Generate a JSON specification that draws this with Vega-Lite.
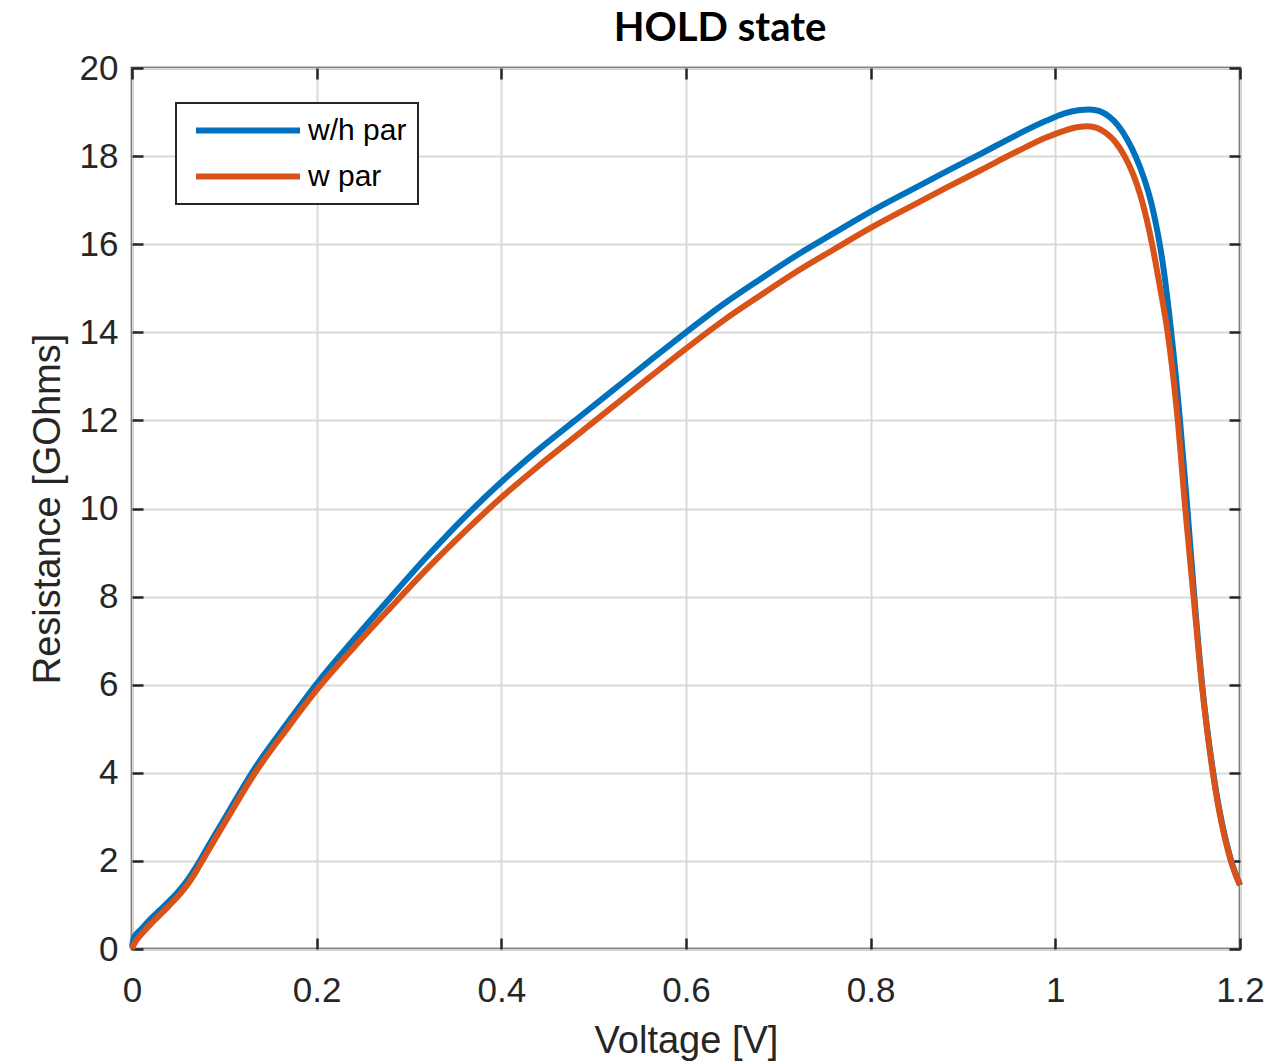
{
  "$schema": "https://vega.github.io/schema/vega-lite/v6.json",
  "width": 1108,
  "height": 881,
  "autosize": {"type": "none"},
  "padding": {"left": 132, "top": 68, "right": 48, "bottom": 112},
  "background": "white",
  "title": {"text": "HOLD state", "font": "Lato", "fontSize": 40, "fontWeight": "bold", "color": "#000000", "anchor": "middle", "frame": "group", "dx": 34, "offset": 2},
  "config": {
    "view": {"stroke": "#262626", "strokeWidth": 2.5},
    "axis": {
      "labelFont": "Liberation Sans", "labelFontSize": 35, "labelColor": "#262626", "labelFlush": false,
      "titleFont": "Liberation Sans", "titleFontSize": 38, "titleColor": "#262626", "titleFontWeight": "normal",
      "tickColor": "#262626", "tickWidth": 2.5, "tickSize": -11,
      "domain": false,
      "gridColor": "#dadada", "gridWidth": 2, "gridOpacity": 1
    }
  },
  "data": {"values": [
    {"s": "w/h par", "V": 0.0, "R": 0.05},
    {"s": "w/h par", "V": 0.002, "R": 0.25},
    {"s": "w/h par", "V": 0.01, "R": 0.45},
    {"s": "w/h par", "V": 0.02, "R": 0.68},
    {"s": "w/h par", "V": 0.03, "R": 0.88},
    {"s": "w/h par", "V": 0.04, "R": 1.08},
    {"s": "w/h par", "V": 0.05, "R": 1.3},
    {"s": "w/h par", "V": 0.06, "R": 1.56},
    {"s": "w/h par", "V": 0.07, "R": 1.88},
    {"s": "w/h par", "V": 0.08, "R": 2.24},
    {"s": "w/h par", "V": 0.09, "R": 2.6},
    {"s": "w/h par", "V": 0.1, "R": 2.95},
    {"s": "w/h par", "V": 0.133, "R": 4.1},
    {"s": "w/h par", "V": 0.169, "R": 5.15},
    {"s": "w/h par", "V": 0.2, "R": 6.02},
    {"s": "w/h par", "V": 0.24, "R": 7.02},
    {"s": "w/h par", "V": 0.28, "R": 7.98},
    {"s": "w/h par", "V": 0.32, "R": 8.92},
    {"s": "w/h par", "V": 0.36, "R": 9.8},
    {"s": "w/h par", "V": 0.4, "R": 10.6},
    {"s": "w/h par", "V": 0.44, "R": 11.33},
    {"s": "w/h par", "V": 0.48, "R": 12.0},
    {"s": "w/h par", "V": 0.52, "R": 12.67},
    {"s": "w/h par", "V": 0.56, "R": 13.34},
    {"s": "w/h par", "V": 0.6, "R": 14.0},
    {"s": "w/h par", "V": 0.64, "R": 14.63},
    {"s": "w/h par", "V": 0.68, "R": 15.2},
    {"s": "w/h par", "V": 0.72, "R": 15.75},
    {"s": "w/h par", "V": 0.76, "R": 16.25},
    {"s": "w/h par", "V": 0.8, "R": 16.74},
    {"s": "w/h par", "V": 0.84, "R": 17.19},
    {"s": "w/h par", "V": 0.88, "R": 17.63},
    {"s": "w/h par", "V": 0.92, "R": 18.06},
    {"s": "w/h par", "V": 0.96, "R": 18.5},
    {"s": "w/h par", "V": 0.99, "R": 18.8},
    {"s": "w/h par", "V": 1.01, "R": 18.97},
    {"s": "w/h par", "V": 1.025, "R": 19.04},
    {"s": "w/h par", "V": 1.037, "R": 19.06},
    {"s": "w/h par", "V": 1.048, "R": 19.02},
    {"s": "w/h par", "V": 1.058, "R": 18.9},
    {"s": "w/h par", "V": 1.068, "R": 18.69},
    {"s": "w/h par", "V": 1.078, "R": 18.37},
    {"s": "w/h par", "V": 1.087, "R": 17.99},
    {"s": "w/h par", "V": 1.096, "R": 17.5},
    {"s": "w/h par", "V": 1.104, "R": 16.93},
    {"s": "w/h par", "V": 1.11, "R": 16.35},
    {"s": "w/h par", "V": 1.116, "R": 15.62},
    {"s": "w/h par", "V": 1.125, "R": 14.1},
    {"s": "w/h par", "V": 1.135, "R": 12.0},
    {"s": "w/h par", "V": 1.143, "R": 10.0},
    {"s": "w/h par", "V": 1.1505, "R": 8.0},
    {"s": "w/h par", "V": 1.159, "R": 6.0},
    {"s": "w/h par", "V": 1.171, "R": 4.0},
    {"s": "w/h par", "V": 1.1905, "R": 2.0},
    {"s": "w/h par", "V": 1.2, "R": 1.45},
    {"s": "w par", "V": 0.0, "R": 0.0},
    {"s": "w par", "V": 0.002, "R": 0.1},
    {"s": "w par", "V": 0.01, "R": 0.33},
    {"s": "w par", "V": 0.02, "R": 0.56},
    {"s": "w par", "V": 0.03, "R": 0.77},
    {"s": "w par", "V": 0.04, "R": 0.98},
    {"s": "w par", "V": 0.05, "R": 1.2},
    {"s": "w par", "V": 0.06, "R": 1.46},
    {"s": "w par", "V": 0.07, "R": 1.78},
    {"s": "w par", "V": 0.08, "R": 2.14},
    {"s": "w par", "V": 0.09, "R": 2.5},
    {"s": "w par", "V": 0.1, "R": 2.85},
    {"s": "w par", "V": 0.133, "R": 3.99},
    {"s": "w par", "V": 0.169, "R": 5.03},
    {"s": "w par", "V": 0.2, "R": 5.88},
    {"s": "w par", "V": 0.24, "R": 6.84},
    {"s": "w par", "V": 0.28, "R": 7.75},
    {"s": "w par", "V": 0.32, "R": 8.64},
    {"s": "w par", "V": 0.36, "R": 9.47},
    {"s": "w par", "V": 0.4, "R": 10.25},
    {"s": "w par", "V": 0.44, "R": 10.96},
    {"s": "w par", "V": 0.48, "R": 11.63},
    {"s": "w par", "V": 0.52, "R": 12.3},
    {"s": "w par", "V": 0.56, "R": 12.97},
    {"s": "w par", "V": 0.6, "R": 13.63},
    {"s": "w par", "V": 0.64, "R": 14.26},
    {"s": "w par", "V": 0.68, "R": 14.83},
    {"s": "w par", "V": 0.72, "R": 15.38},
    {"s": "w par", "V": 0.76, "R": 15.88},
    {"s": "w par", "V": 0.8, "R": 16.37},
    {"s": "w par", "V": 0.84, "R": 16.82},
    {"s": "w par", "V": 0.88, "R": 17.26},
    {"s": "w par", "V": 0.92, "R": 17.69},
    {"s": "w par", "V": 0.96, "R": 18.12},
    {"s": "w par", "V": 0.99, "R": 18.42},
    {"s": "w par", "V": 1.01, "R": 18.58},
    {"s": "w par", "V": 1.025, "R": 18.66},
    {"s": "w par", "V": 1.035, "R": 18.68},
    {"s": "w par", "V": 1.045, "R": 18.64},
    {"s": "w par", "V": 1.055, "R": 18.52},
    {"s": "w par", "V": 1.065, "R": 18.32},
    {"s": "w par", "V": 1.075, "R": 18.0},
    {"s": "w par", "V": 1.084, "R": 17.6},
    {"s": "w par", "V": 1.092, "R": 17.12},
    {"s": "w par", "V": 1.099, "R": 16.56},
    {"s": "w par", "V": 1.105, "R": 15.98},
    {"s": "w par", "V": 1.112, "R": 15.18},
    {"s": "w par", "V": 1.1226, "R": 13.85},
    {"s": "w par", "V": 1.1326, "R": 12.0},
    {"s": "w par", "V": 1.1407, "R": 10.0},
    {"s": "w par", "V": 1.1497, "R": 8.0},
    {"s": "w par", "V": 1.1587, "R": 6.0},
    {"s": "w par", "V": 1.1706, "R": 4.0},
    {"s": "w par", "V": 1.1901, "R": 2.0},
    {"s": "w par", "V": 1.2, "R": 1.45}
  ]},
  "layer": [
    {
      "mark": {"type": "line", "strokeWidth": 6, "interpolate": "monotone", "strokeJoin": "round"},
      "encoding": {
        "x": {"field": "V", "type": "quantitative", "scale": {"domain": [0, 1.2], "nice": false},
              "axis": {"values": [0, 0.2, 0.4, 0.6, 0.8, 1, 1.2], "format": "~g", "title": "Voltage [V]", "labelPadding": 35, "titlePadding": 14, "grid": true}},
        "y": {"field": "R", "type": "quantitative", "scale": {"domain": [0, 20], "nice": false},
              "axis": {"values": [0, 2, 4, 6, 8, 10, 12, 14, 16, 18, 20], "format": "d", "title": "Resistance [GOhms]", "labelPadding": 25, "titlePadding": 12, "grid": true}},
        "color": {"field": "s", "type": "nominal",
                  "scale": {"domain": ["w/h par", "w par"], "range": ["#0072BD", "#D95319"]},
                  "legend": {"orient": "none", "legendX": 44, "legendY": 35, "title": null,
                             "symbolType": "stroke", "symbolSize": 10816, "symbolStrokeWidth": 6, "symbolOffset": 6,
                             "labelFont": "Liberation Sans", "labelFontSize": 30, "labelColor": "#000000",
                             "strokeColor": "#262626", "fillColor": "#ffffff", "padding": 11,
                             "rowPadding": 13, "labelOffset": 5, "clipHeight": 33,
                             "encode": {"legend": {"update": {"strokeWidth": {"value": 2}}}}}}
      }
    },
    {
      "mark": {"type": "line", "opacity": 0},
      "encoding": {
        "x": {"field": "V", "type": "quantitative", "axis": {"orient": "top", "values": [0, 0.2, 0.4, 0.6, 0.8, 1, 1.2], "labels": false, "grid": false, "title": null}},
        "y": {"field": "R", "type": "quantitative", "axis": {"orient": "right", "values": [0, 2, 4, 6, 8, 10, 12, 14, 16, 18, 20], "labels": false, "grid": false, "title": null}},
        "detail": {"field": "s"}
      }
    }
  ],
  "resolve": {"axis": {"x": "independent", "y": "independent"}}
}
